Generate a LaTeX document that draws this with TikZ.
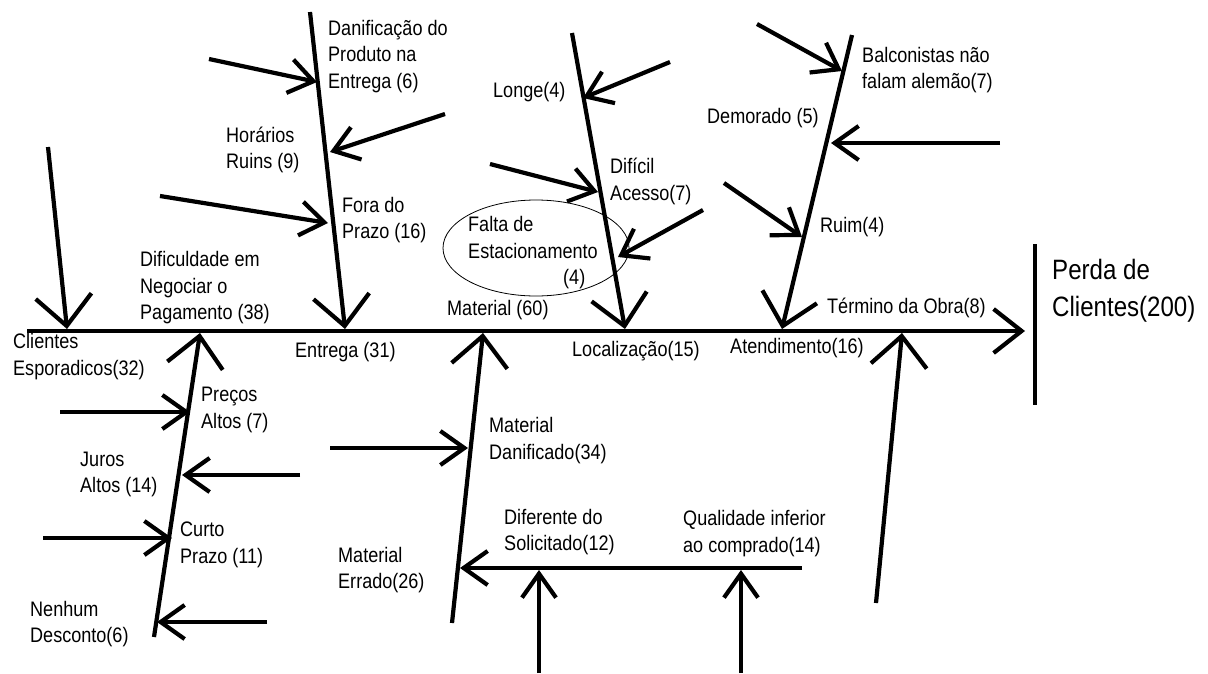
\documentclass[tikz,border=0pt]{standalone}
\usepackage{fontspec}
\usetikzlibrary{arrows.meta,shapes.geometric}
\newfontfamily\lblfont[FakeStretch=0.86]{Liberation Sans}
\newfontfamily\bigfont[FakeStretch=0.86]{Liberation Sans}
\begin{document}
\begin{tikzpicture}[x=1pt,y=-1pt,
  lbl/.style={font=\lblfont\fontsize{21}{26.5}\selectfont,align=left,anchor=west,inner sep=0pt},
  bone/.style={line width=4.2pt,-{Straight Barb[length=30pt,width=56pt]}},
  sub/.style={line width=4.2pt,-{Straight Barb[length=24pt,width=34pt]}},
  plain/.style={line width=4.2pt}]
\useasboundingbox[fill=white] (0,0) rectangle (1208,673);

% spine and head
\coordinate (sp0) at (27,331);
\coordinate (sp1) at (1025,331);
\draw[line width=4.2pt,-{Straight Barb[length=28pt,width=44pt]}] (sp0) -- (sp1);
\coordinate (bar0) at (1035,244);
\coordinate (bar1) at (1035,405);
\draw[plain] (bar0) -- (bar1);
\node[font=\bigfont\fontsize{28}{37}\selectfont,align=left,anchor=west,inner sep=0pt] (head) at (1052,291) {Perda de\\Clientes(200)};

% main bones
\coordinate (b1s) at (48,147);  \coordinate (b1t) at (67,329);
\coordinate (b2s) at (310,12);  \coordinate (b2t) at (345,329);
\coordinate (b3s) at (572,33);  \coordinate (b3t) at (625,329);
\coordinate (b4s) at (852,35);  \coordinate (b4t) at (782,329);
\coordinate (b5s) at (154,637); \coordinate (b5t) at (200,333);
\coordinate (b6s) at (452,623); \coordinate (b6t) at (483,333);
\coordinate (b7s) at (876,603); \coordinate (b7t) at (902,333);
\draw[bone] (b1s) -- (b1t);
\draw[bone] (b2s) -- (b2t);
\draw[bone] (b3s) -- (b3t);
\draw[bone] (b4s) -- (b4t);
\draw[bone] (b5s) -- (b5t);
\draw[bone] (b6s) -- (b6t);
\draw[bone] (b7s) -- (b7t);

% sub causes
\coordinate (s1s) at (209,59);   \coordinate (s1t) at (317,82);
\coordinate (s2s) at (445,114);  \coordinate (s2t) at (330,152);
\coordinate (s3s) at (160,196);  \coordinate (s3t) at (328,223);
\coordinate (s4s) at (670,62);   \coordinate (s4t) at (583,98);
\coordinate (s5s) at (490,164);  \coordinate (s5t) at (598,192);
\coordinate (s6s) at (703,210);  \coordinate (s6t) at (618,257);
\coordinate (s7s) at (757,24);   \coordinate (s7t) at (842,71);
\coordinate (s8s) at (1000,143); \coordinate (s8t) at (831,143);
\coordinate (s9s) at (724,183);  \coordinate (s9t) at (802,237);
\coordinate (s10s) at (60,412);  \coordinate (s10t) at (190,412);
\coordinate (s11s) at (300,475); \coordinate (s11t) at (182,475);
\coordinate (s12s) at (43,538);  \coordinate (s12t) at (172,538);
\coordinate (s13s) at (267,622); \coordinate (s13t) at (157,622);
\coordinate (s14s) at (330,448); \coordinate (s14t) at (468,448);
\coordinate (s15s) at (802,568); \coordinate (s15t) at (460,568);
\coordinate (s16s) at (539,673); \coordinate (s16t) at (539,570);
\coordinate (s17s) at (741,673); \coordinate (s17t) at (741,570);
\foreach \i in {1,...,17} {\draw[sub] (s\i s) -- (s\i t);}

% ellipse
\node[draw,ellipse,line width=0.8pt,minimum width=186pt,minimum height=96pt,inner sep=0pt] (ell) at (536,248) {};

% labels
\node[lbl] (l1) at (328,56.5) {Danificação do\\Produto na\\Entrega (6)};
\node[lbl] (l2) at (226,150) {Horários\\Ruins (9)};
\node[lbl] (l3) at (342,220) {Fora do\\Prazo (16)};
\node[lbl] (l4) at (140,288) {Dificuldade em\\Negociar o\\Pagamento (38)};
\node[lbl] (l5) at (13,356.5) {Clientes\\Esporadicos(32)};
\node[lbl] (l6) at (295,352) {Entrega (31)};
\node[lbl] (l7) at (447,310) {Material (60)};
\node[lbl] (l8) at (493,92) {Longe(4)};
\node[lbl] (l9) at (610,181.5) {Difícil\\Acesso(7)};
\node[lbl] (l10) at (468,253) {Falta de\\Estacionamento\\\hspace*{95pt}(4)};
\node[lbl] (l11) at (572,351) {Localização(15)};
\node[lbl] (l12) at (707,118) {Demorado (5)};
\node[lbl] (l13) at (862,70) {Balconistas não\\falam alemão(7)};
\node[lbl] (l14) at (820,227) {Ruim(4)};
\node[lbl] (l15) at (827,308) {Término da Obra(8)};
\node[lbl] (l16) at (730,348) {Atendimento(16)};
\node[lbl] (l18) at (201,410) {Preços\\Altos (7)};
\node[lbl] (l19) at (80,474.5) {Juros\\Altos (14)};
\node[lbl] (l20) at (180,545) {Curto\\Prazo (11)};
\node[lbl] (l21) at (30,624) {Nenhum\\Desconto(6)};
\node[lbl] (l22) at (489,440.5) {Material\\Danificado(34)};
\node[lbl] (l23) at (338,570) {Material\\Errado(26)};
\node[lbl] (l24) at (504,532) {Diferente do\\Solicitado(12)};
\node[lbl] (l25) at (683,533.5) {Qualidade inferior\\ao comprado(14)};
\end{tikzpicture}
\end{document}
